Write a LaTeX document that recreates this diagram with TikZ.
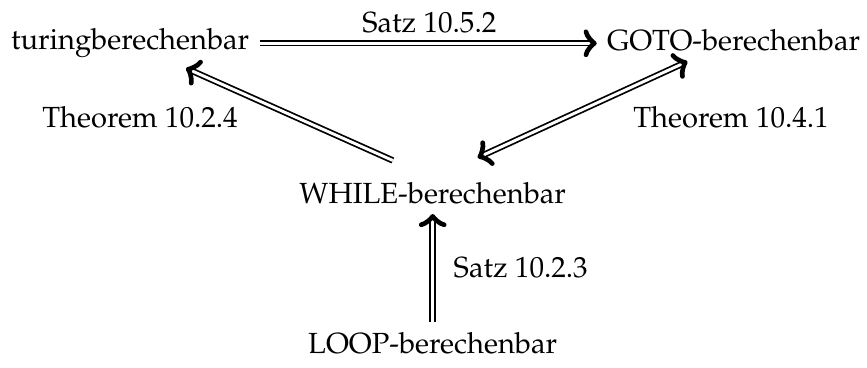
\documentclass[tikz,border=0pt]{standalone}
\usepackage[T1]{fontenc}
\usepackage{mathpazo}
\usetikzlibrary{arrows.meta,calc}
\begin{document}
\begin{tikzpicture}[
    hook/.tip={Classical TikZ Rightarrow[length=4.5pt, width=9.5pt, line width=1.6pt, round]},
    dbl/.style={double, double distance=1pt, line width=0.6pt},
    headpart/.style={draw, double=black, double distance=0pt, line width=0.8pt,
        dash pattern=on 0pt off 50cm, shorten >=0pt, shorten <=0pt},
    imp/.style={dbl, shorten >=1.3pt, postaction={headpart, -hook}},
    impboth/.style={dbl, shorten >=1.3pt, shorten <=1.3pt, postaction={headpart, hook-hook}},
    cls/.style={anchor=base},
    lbl/.style={anchor=base}]
    \useasboundingbox (0,0) rectangle (10.46,-4.43);

    % Berechenbarkeitsbegriffe
    \node[cls] (turing) at (1.57, -0.60) {turingberechenbar};
    \node[cls] (goto) at (8.85, -0.61) {GOTO-berechenbar};
    \node[cls] (while) at (5.22, -2.45) {WHILE-berechenbar};
    \node[cls] (loop) at (5.22, -4.26) {LOOP-berechenbar};

    % Pfeile
    \draw[imp] (turing.east) -- (goto.west |- turing.east);
    \draw[imp] ($([yshift=5pt]while.center)!15pt!(turing)$) -- (turing);
    \draw[impboth] (goto) -- ($([yshift=5pt]while.center)!17pt!(goto)$);
    \draw[imp] (loop) -- (while);

    % Beschriftungen
    \node[lbl] at (5.18, -0.39) {Satz 10.5.2};
    \node[lbl] at (1.69, -1.54) {Theorem 10.2.4};
    \node[lbl] at (8.82, -1.54) {Theorem 10.4.1};
    \node[lbl, anchor=base west] at (5.35, -3.35) {Satz 10.2.3};

\end{tikzpicture}
\end{document}
